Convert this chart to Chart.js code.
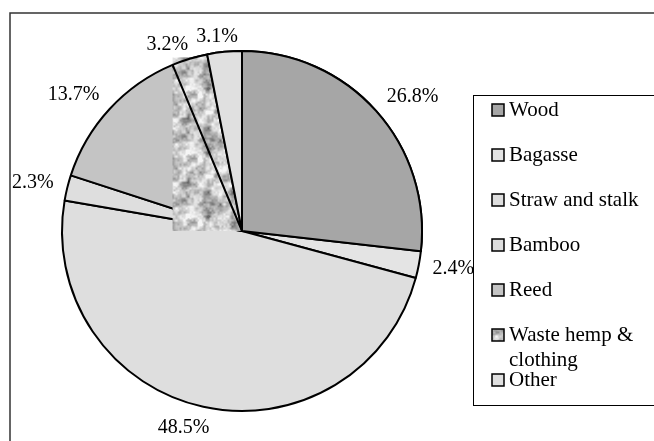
<!DOCTYPE html>
<html>
<head>
<meta charset="utf-8">
<script src="https://cdn.jsdelivr.net/npm/chart.js@4"></script>
<style>
  html, body { margin: 0; padding: 0; background: #fff; }
  #wrap { width: 654px; height: 441px; position: relative; }
</style>
</head>
<body>
<div id="wrap"><canvas id="myChart"></canvas></div>
<script>
// Dataset
const categories = ["Wood", "Bagasse", "Straw and stalk", "Bamboo", "Reed", "Waste hemp & clothing", "Other"];
const shares = [26.8, 2.4, 48.5, 2.3, 13.7, 3.2, 3.1];

// Styles
const sliceColors = ["#a6a6a6", "#e4e4e4", "#dedede", "#dedede", "#c4c4c4", null, "#e0e0e0"];
const TEXTURED = 5; // waste hemp slice gets the speckled fill
const SERIF = "'Liberation Serif', 'Times New Roman', serif";

// speckled grey texture (deterministic value noise, tiles at 64px)
function makeTexture() {
  const N = 64;
  const c = document.createElement("canvas");
  c.width = N; c.height = N;
  const g = c.getContext("2d");
  const img = g.createImageData(N, N);
  const hash = (i, j, s) => {
    const v = Math.sin(i * 127.1 + j * 311.7 + s * 74.7) * 43758.5453;
    return v - Math.floor(v);
  };
  const noise = (x, y, cell, seed) => {
    const n = N / cell;
    const gx = x / cell, gy = y / cell;
    const i0 = Math.floor(gx), j0 = Math.floor(gy);
    const fx = gx - i0, fy = gy - j0;
    const sx = fx * fx * (3 - 2 * fx), sy = fy * fy * (3 - 2 * fy);
    const h = (i, j) => hash(((i % n) + n) % n, ((j % n) + n) % n, seed);
    const a = h(i0, j0), b = h(i0 + 1, j0), cc = h(i0, j0 + 1), d = h(i0 + 1, j0 + 1);
    return (a * (1 - sx) + b * sx) * (1 - sy) + (cc * (1 - sx) + d * sx) * sy;
  };
  for (let y = 0; y < N; y++) {
    for (let x = 0; x < N; x++) {
      let v = 0.5 * noise(x, y, 8, 1) + 0.32 * noise(x, y, 4, 2) + 0.18 * noise(x, y, 2, 3);
      v = Math.min(1, Math.max(0, (v - 0.5) * 1.8 + 0.62));
      v = Math.pow(v, 0.8);
      const gray = Math.round(105 + v * 140);
      const k = (y * N + x) * 4;
      img.data[k] = gray; img.data[k + 1] = gray; img.data[k + 2] = gray; img.data[k + 3] = 255;
    }
  }
  g.putImageData(img, 0, 0);
  return c;
}

const ctx = document.getElementById("myChart").getContext("2d");
const texture = ctx.createPattern(makeTexture(), "repeat");
const fills = sliceColors.map((c, i) => (i === TEXTURED ? texture : c));

// outer frame, cut by the page edge
const framePlugin = {
  id: "frame",
  beforeDraw(chart) {
    const c = chart.ctx;
    c.save();
    c.strokeStyle = "#333";
    c.lineWidth = 1.5;
    c.strokeRect(10, 13, 700, 500);
    c.restore();
  }
};

// texture drawn over the slice's bounding box, then neighbours redrawn on top
const texturePlugin = {
  id: "textureBox",
  afterDatasetsDraw(chart) {
    const meta = chart.getDatasetMeta(0);
    const arc = meta.data[TEXTURED];
    const p = arc.getProps(["x", "y", "startAngle", "endAngle", "outerRadius"], true);
    const pts = [[p.x, p.y]];
    const add = a => pts.push([p.x + Math.cos(a) * p.outerRadius, p.y + Math.sin(a) * p.outerRadius]);
    add(p.startAngle); add(p.endAngle);
    for (let k = Math.ceil(p.startAngle / (Math.PI / 2)); k * Math.PI / 2 < p.endAngle; k++) add(k * Math.PI / 2);
    const xs = pts.map(q => q[0]), ys = pts.map(q => q[1]);
    const x0 = Math.min(...xs), x1 = Math.max(...xs), y0 = Math.min(...ys), y1 = Math.max(...ys);
    const c = chart.ctx;
    c.save();
    c.fillStyle = texture;
    c.fillRect(x0, y0 + 3, x1 - x0, y1 - y0 - 3);
    c.restore();
    [TEXTURED, 6, 0].forEach(i => meta.data[i].draw(c));

    // percentage labels outside the pie
    c.save();
    c.font = "20px " + SERIF;
    c.fillStyle = "#000";
    c.textBaseline = "middle";
    c.textAlign = "center";
    meta.data.forEach((el, i) => {
      const a = el.getProps(["x", "y", "startAngle", "endAngle", "outerRadius"], true);
      const mid = (a.startAngle + a.endAngle) / 2;
      const R = a.outerRadius + 14;
      const px = a.x + Math.cos(mid) * R;
      const py = a.y + Math.sin(mid) * R;
      const txt = shares[i].toFixed(1) + "%";
      const w = c.measureText(txt).width;
      const k = Math.max(-1, Math.min(1, 3 * Math.cos(mid)));
      const s = Math.sin(mid);
      c.fillText(txt, px + k * w / 2, py + s * (s < -0.9 ? 1 : 7));
    });
    c.restore();
  }
};

// boxed legend on the right
const legendPlugin = {
  id: "boxLegend",
  afterDraw(chart) {
    const c = chart.ctx;
    const left = 473, top = 95, bottom = 405;
    c.save();
    c.strokeStyle = "#000";
    c.lineWidth = 1;
    c.strokeRect(left + 0.5, top + 0.5, 400, bottom - top);
    c.font = "21px " + SERIF;
    c.textBaseline = "middle";
    c.textAlign = "left";
    const maxW = 654 - (left + 36) - 4;
    categories.forEach((label, i) => {
      const y = top + 15 + i * 45;
      c.fillStyle = fills[i];
      c.fillRect(left + 19, y - 6, 12, 12);
      c.strokeStyle = "#000";
      c.lineWidth = 1.5;
      c.strokeRect(left + 19, y - 6, 12, 12);
      // word wrap
      const lines = [];
      let line = "";
      label.split(" ").forEach(word => {
        const t = line ? line + " " + word : word;
        if (c.measureText(t).width > maxW && line) { lines.push(line); line = word; }
        else line = t;
      });
      lines.push(line);
      c.fillStyle = "#000";
      lines.forEach((ln, j) => c.fillText(ln, left + 36, y + j * 25));
    });
    c.restore();
  }
};

const data = {
  labels: categories,
  datasets: [{
    data: shares,
    backgroundColor: fills,
    borderColor: "#000",
    borderWidth: 2
  }]
};

const config = {
  type: "pie",
  data: data,
  options: {
    responsive: true,
    maintainAspectRatio: false,
    animation: false,
    events: [],
    layout: { padding: { left: 61, right: 231, top: 50, bottom: 29 } },
    plugins: {
      legend: { display: false },
      tooltip: { enabled: false }
    }
  },
  plugins: [framePlugin, texturePlugin, legendPlugin]
};

// Plotting
const pieChart = new Chart(ctx, config);
</script>
</body>
</html>
